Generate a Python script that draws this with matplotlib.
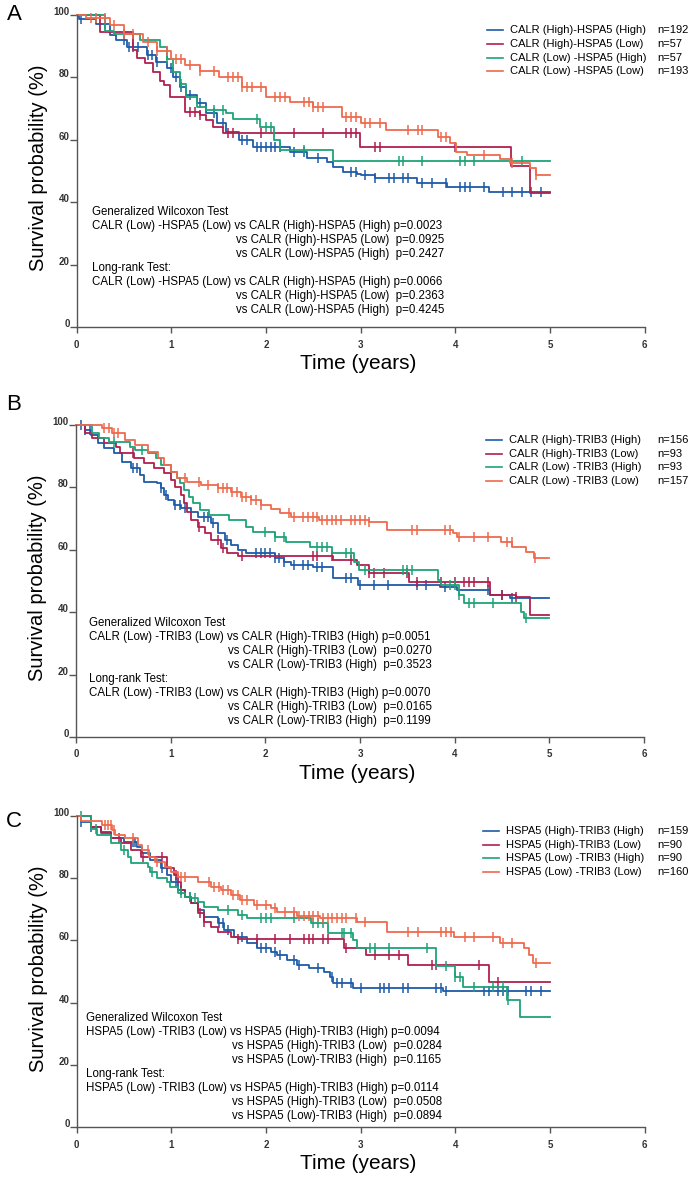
import numpy as np
import matplotlib
matplotlib.use("Agg")
import matplotlib.pyplot as plt

plt.rcParams['font.family'] = ['Liberation Sans', 'DejaVu Sans']

BLUE = '#1f5ba8'
RED = '#b0204e'
GREEN = '#1ea378'
SALMON = '#ee6a4e'

# ---------------- Panel A: CALR / HSPA5 ----------------
a_blue_t = [0, 0.03, 0.2, 0.35, 0.42, 0.53, 0.74, 0.84, 0.95, 1.02, 1.09, 1.16, 1.27, 1.37, 1.48, 1.58, 1.72, 1.86,
            2.25, 2.43, 2.64, 2.71, 2.81, 2.96, 3.0, 3.15, 3.59, 3.91, 4.35, 5.0]
a_blue_s = [100, 98.7, 97, 93.6, 92, 89.8, 87.2, 85, 82.9, 80.2, 77, 74.4, 71.7, 68.5, 65.3, 62.6, 60, 57.8,
            56.2, 54.1, 53, 51.4, 49.8, 49.2, 48.7, 47.7, 46, 44.8, 43.4, 43.4]
a_blue_c = [0.05, 0.3, 0.5, 0.55, 0.6, 0.65, 0.75, 0.8, 0.85, 1.0, 1.05, 1.1, 1.2, 1.3, 1.45, 1.55, 1.75, 1.8, 1.9,
            1.95, 2.0, 2.05, 2.1, 2.15, 2.3, 2.4, 2.55, 2.9, 2.95, 3.05, 3.15, 3.3, 3.35, 3.45, 3.5, 3.65, 3.75,
            3.9, 4.05, 4.1, 4.15, 4.3, 4.5, 4.6, 4.7, 4.8, 4.9]
a_red_t = [0, 0.25, 0.6, 0.64, 0.72, 0.81, 0.88, 0.92, 0.99, 1.14, 1.3, 1.37, 1.44, 1.55, 2.99, 4.59, 4.79, 5.0]
a_red_s = [100, 94.7, 88.8, 86.2, 84.5, 81.8, 79, 77.5, 73.8, 69, 68, 66.3, 64.2, 62.1, 57.8, 51.7, 43, 43]
a_red_c = [1.2, 1.25, 1.3, 1.6, 1.65, 1.95, 2.3, 2.6, 2.85, 2.9, 2.95, 3.15, 3.2, 4.0]
a_green_t = [0, 0.3, 0.4, 0.67, 0.88, 0.95, 1.02, 1.09, 1.16, 1.27, 1.37, 1.58, 1.65, 1.94, 2.08, 2.15, 2.71, 5.0]
a_green_s = [100, 95, 94, 92, 89.8, 86, 81.8, 78, 73.8, 70.6, 69.5, 68.5, 66.7, 64.2, 60, 56.7, 53.3, 53.3]
a_green_c = [0.95, 1.1, 1.45, 1.55, 1.9, 2.0, 2.05, 2.4, 3.4, 3.45, 3.65, 4.05, 4.1, 4.2, 4.7]
a_sal_t = [0, 0.1, 0.35, 0.5, 0.7, 0.85, 1.0, 1.15, 1.3, 1.5, 1.75, 2.0, 2.25, 2.5, 2.8, 3.0, 3.27, 3.82, 3.94,
           4.01, 4.12, 4.47, 4.58, 4.79, 4.85, 5.0]
a_sal_s = [100, 99, 96.8, 94, 91.5, 88.5, 86, 84, 82, 80, 77, 73.7, 72, 70.5, 67.3, 65.4, 63.1, 61, 59, 56, 55,
           54, 52.5, 50.9, 48.7, 48.7]
a_sal_c = [0.15, 0.2, 0.3, 0.4, 0.5, 0.6, 0.75, 0.85, 0.95, 1.05, 1.1, 1.2, 1.3, 1.45, 1.6, 1.65, 1.7, 1.75, 1.8,
           1.85, 1.95, 2.1, 2.15, 2.2, 2.4, 2.45, 2.5, 2.55, 2.6, 2.85, 2.9, 2.95, 3.05, 3.1, 3.2, 3.5, 3.6,
           3.65, 3.85, 3.9, 4.3, 4.6, 4.85]

# ---------------- Panel B: CALR / TRIB3 ----------------
b_blue_t = [0, 0.1, 0.16, 0.23, 0.3, 0.4, 0.49, 0.58, 0.68, 0.72, 0.86, 0.9, 0.93, 0.97, 1.04, 1.11, 1.22, 1.29,
            1.43, 1.5, 1.57, 1.64, 1.71, 1.8, 2.1, 2.2, 2.27, 2.5, 2.71, 2.98, 3.84, 4.02, 4.37, 4.58, 5.0]
b_blue_s = [100, 98.4, 96.8, 94.1, 92.5, 90.9, 88.2, 86.1, 84, 81.8, 81.3, 79.7, 77.6, 76, 74.4, 73.3, 72.2, 70.6,
            68.5, 65.3, 63.1, 61.5, 59.9, 58.9, 57.3, 56.2, 55.2, 54.6, 50.8, 48.7, 48, 47.1, 45.5, 44.4, 44.4]
b_blue_c = [0.05, 0.1, 0.15, 0.6, 0.65, 0.9, 0.95, 1.05, 1.1, 1.15, 1.35, 1.4, 1.45, 1.6, 1.9, 1.95, 2.0, 2.05,
            2.1, 2.15, 2.2, 2.3, 2.4, 2.45, 2.55, 2.6, 2.85, 2.9, 3.0, 3.15, 3.3, 3.6, 3.7, 3.9, 4.35, 4.5, 4.6]
b_red_t = [0, 0.1, 0.17, 0.3, 0.42, 0.47, 0.61, 0.72, 0.83, 0.93, 1.0, 1.05, 1.11, 1.14, 1.17, 1.22, 1.29, 1.36,
           1.43, 1.53, 1.6, 1.71, 2.71, 2.97, 3.1, 3.52, 4.37, 4.65, 4.79, 5.0]
b_red_s = [100, 97.3, 95.7, 94.1, 93, 90.9, 89.3, 87.7, 86.1, 84.5, 82.4, 80.2, 77.6, 74.9, 72.2, 69.6, 67.4,
           65.3, 63.1, 60.5, 58.9, 58.1, 56.7, 55.1, 52.5, 49.8, 45.5, 45, 39.1, 39.1]
b_red_c = [0.6, 1.3, 1.5, 1.55, 1.75, 2.5, 2.55, 2.7, 2.9, 3.1, 3.15, 3.25, 3.5, 3.6, 3.85, 4.0, 4.1, 4.15, 4.2,
           4.35, 4.5, 4.65]
b_green_t = [0, 0.17, 0.24, 0.35, 0.57, 0.62, 0.76, 0.85, 0.9, 1.0, 1.07, 1.1, 1.14, 1.19, 1.24, 1.31, 1.41,
             1.62, 1.8, 1.87, 2.1, 2.22, 2.47, 2.7, 2.94, 2.99, 3.82, 3.85, 4.05, 4.1, 4.7, 4.73, 5.0]
b_green_s = [100, 97.3, 95.7, 94.6, 93, 92, 90.9, 89.3, 87.2, 85, 82.9, 81.3, 79.2, 77, 74.9, 72.8, 71.2, 69.6,
             67.4, 65.8, 64.2, 62.6, 61, 58.9, 56.2, 53.5, 50.3, 48.7, 45.5, 42.9, 40.2, 38, 38]
b_green_c = [0.4, 0.7, 2.0, 2.1, 2.2, 2.55, 2.6, 2.65, 2.85, 2.9, 3.05, 3.45, 3.5, 3.55, 3.95, 4.0, 4.05, 4.15,
             4.2, 4.4, 4.75]
b_sal_t = [0, 0.28, 0.38, 0.52, 0.62, 0.76, 0.87, 0.93, 1.0, 1.07, 1.17, 1.32, 1.5, 1.64, 1.74, 1.85, 1.95, 2.06,
           2.16, 2.27, 2.57, 3.1, 3.29, 3.98, 4.02, 4.49, 4.61, 4.75, 4.84, 5.0]
b_sal_s = [100, 99, 97.4, 95.2, 93.6, 91.4, 89.3, 87.2, 85, 82.9, 81.8, 80.8, 79.7, 78.6, 77, 76, 74.4, 73, 71.7,
           70.6, 69.5, 68.8, 66.3, 65.3, 64.2, 62.6, 61, 59.4, 57.3, 57.3]
b_sal_c = [0.3, 0.35, 0.4, 0.45, 1.15, 1.3, 1.4, 1.5, 1.55, 1.6, 1.65, 1.7, 1.75, 1.8, 1.85, 1.9, 1.95, 2.25, 2.3,
           2.4, 2.45, 2.5, 2.55, 2.6, 2.65, 2.7, 2.75, 2.8, 2.9, 2.95, 3.0, 3.05, 3.1, 3.55, 3.6, 3.9, 3.95,
           4.05, 4.2, 4.35, 4.55, 4.6, 4.85]

# ---------------- Panel C: HSPA5 / TRIB3 ----------------
c_blue_t = [0, 0.05, 0.15, 0.26, 0.36, 0.5, 0.64, 0.69, 0.78, 0.89, 0.96, 1.0, 1.07, 1.14, 1.21, 1.28, 1.35, 1.49,
            1.56, 1.66, 1.8, 1.91, 2.05, 2.12, 2.22, 2.33, 2.45, 2.61, 2.68, 2.71, 2.92, 3.87, 5.0]
c_blue_s = [100, 98.2, 96.6, 94.4, 92.8, 91.7, 90.1, 88, 85.9, 83.2, 81, 78.9, 76.2, 74.1, 71.9, 69.8, 67.6, 65.5,
            63.3, 61.2, 59.1, 57.5, 56.4, 55.3, 53.7, 52.1, 51, 49.9, 48.3, 46.2, 44.6, 43.8, 43.8]
c_blue_c = [0.05, 0.15, 0.6, 0.62, 0.9, 1.05, 1.1, 1.2, 1.35, 1.5, 1.55, 1.6, 1.75, 1.9, 1.95, 2.0, 2.1, 2.15, 2.3,
            2.35, 2.55, 2.7, 2.75, 2.8, 2.9, 3.0, 3.2, 3.25, 3.3, 3.45, 3.5, 3.8, 3.85, 3.9, 4.3, 4.35, 4.45,
            4.5, 4.55, 4.75, 4.8, 4.9]
c_red_t = [0, 0.15, 0.26, 0.36, 0.47, 0.57, 0.68, 0.96, 1.03, 1.07, 1.1, 1.15, 1.21, 1.28, 1.35, 1.42, 1.49, 1.63,
           1.7, 2.82, 3.06, 3.5, 4.35, 5.0]
c_red_s = [100, 96.6, 95, 92.8, 91.2, 89.1, 86.9, 83.2, 81, 78.9, 76.2, 74.1, 71.9, 68.7, 66, 64.4, 62.8, 61.2,
           60.5, 57.5, 55.3, 52.1, 46.5, 46.5]
c_red_c = [0.45, 0.7, 0.9, 1.05, 1.3, 1.35, 1.7, 1.9, 2.1, 2.25, 2.4, 2.45, 2.5, 2.6, 2.65, 2.85, 3.15, 3.3, 3.4,
           3.75, 3.8, 4.25, 4.45]
c_green_t = [0, 0.15, 0.22, 0.36, 0.47, 0.54, 0.57, 0.75, 0.78, 0.85, 0.96, 0.99, 1.07, 1.14, 1.21, 1.28, 1.35,
             1.49, 1.7, 1.8, 2.47, 2.66, 2.92, 2.96, 3.8, 4.0, 4.08, 4.54, 4.68, 5.0]
c_green_s = [100, 96, 93.9, 91.2, 89.1, 86.9, 84.8, 83.7, 82.1, 80, 78.9, 77.3, 75.1, 74.1, 73.5, 72.4, 70.8,
             69.8, 68.2, 67.3, 65.5, 62.3, 60.1, 57.5, 51.8, 48.3, 45.1, 40.8, 35.5, 35.5]
c_green_c = [0.05, 0.2, 0.5, 0.8, 1.1, 1.2, 1.25, 1.6, 1.75, 1.95, 2.0, 2.05, 2.3, 2.5, 2.55, 2.6, 2.8, 2.82, 2.9,
             3.1, 3.15, 3.3, 3.7, 3.9, 4.0, 4.05, 4.2, 4.4, 4.5, 4.55]
c_sal_t = [0, 0.05, 0.27, 0.37, 0.41, 0.51, 0.65, 0.69, 0.76, 0.83, 0.93, 1.0, 1.07, 1.28, 1.42, 1.52, 1.63,
           1.73, 1.87, 2.05, 2.12, 2.33, 2.57, 2.96, 3.28, 3.98, 4.47, 4.72, 4.78, 4.82, 5.0]
c_sal_s = [100, 98.5, 97.1, 95.5, 93.9, 92.8, 90.7, 89.1, 86.9, 85.3, 83.7, 82.1, 80.5, 78.9, 77.3, 76.2, 74.6,
           73, 71.4, 70.3, 69.2, 68, 67.1, 66, 62.8, 61.2, 59.1, 57.5, 55.3, 52.6, 52.6]
c_sal_c = [0.3, 0.33, 0.36, 0.4, 0.6, 0.75, 0.85, 1.1, 1.15, 1.4, 1.45, 1.5, 1.55, 1.6, 1.65, 1.7, 1.75, 1.8,
           1.9, 2.0, 2.1, 2.2, 2.3, 2.35, 2.4, 2.45, 2.5, 2.55, 2.6, 2.65, 2.7, 2.75, 2.8, 2.85, 2.95, 3.05,
           3.5, 3.6, 3.85, 3.9, 3.95, 4.1, 4.2, 4.4, 4.5, 4.6, 4.85]

a_labels = ['CALR (High)-HSPA5 (High)', 'CALR (High)-HSPA5 (Low)', 'CALR (Low) -HSPA5 (High)', 'CALR (Low) -HSPA5 (Low)']
a_n = ['n=192', 'n=57', 'n=57', 'n=193']
b_labels = ['CALR (High)-TRIB3 (High)', 'CALR (High)-TRIB3 (Low)', 'CALR (Low) -TRIB3 (High)', 'CALR (Low) -TRIB3 (Low)']
b_n = ['n=156', 'n=93', 'n=93', 'n=157']
c_labels = ['HSPA5 (High)-TRIB3 (High)', 'HSPA5 (High)-TRIB3 (Low)', 'HSPA5 (Low) -TRIB3 (High)', 'HSPA5 (Low) -TRIB3 (Low)']
c_n = ['n=159', 'n=90', 'n=90', 'n=160']

a_stats = ['Generalized Wilcoxon Test',
           'CALR (Low) -HSPA5 (Low) vs CALR (High)-HSPA5 (High) p=0.0023',
           'vs CALR (High)-HSPA5 (Low)  p=0.0925',
           'vs CALR (Low)-HSPA5 (High)  p=0.2427',
           'Long-rank Test:',
           'CALR (Low) -HSPA5 (Low) vs CALR (High)-HSPA5 (High) p=0.0066',
           'vs CALR (High)-HSPA5 (Low)  p=0.2363',
           'vs CALR (Low)-HSPA5 (High)  p=0.4245']
b_stats = ['Generalized Wilcoxon Test',
           'CALR (Low) -TRIB3 (Low) vs CALR (High)-TRIB3 (High) p=0.0051',
           'vs CALR (High)-TRIB3 (Low)  p=0.0270',
           'vs CALR (Low)-TRIB3 (High)  p=0.3523',
           'Long-rank Test:',
           'CALR (Low) -TRIB3 (Low) vs CALR (High)-TRIB3 (High) p=0.0070',
           'vs CALR (High)-TRIB3 (Low)  p=0.0165',
           'vs CALR (Low)-TRIB3 (High)  p=0.1199']
c_stats = ['Generalized Wilcoxon Test',
           'HSPA5 (Low) -TRIB3 (Low) vs HSPA5 (High)-TRIB3 (High) p=0.0094',
           'vs HSPA5 (High)-TRIB3 (Low)  p=0.0284',
           'vs HSPA5 (Low)-TRIB3 (High)  p=0.1165',
           'Long-rank Test:',
           'HSPA5 (Low) -TRIB3 (Low) vs HSPA5 (High)-TRIB3 (High) p=0.0114',
           'vs HSPA5 (High)-TRIB3 (Low)  p=0.0508',
           'vs HSPA5 (Low)-TRIB3 (High)  p=0.0894']

panels = [
    dict(letter='A', rect=[0.110, 0.7231, 0.8165, 0.2642], letter_y=1.003, leg_x=0.7625,
         curves=[(a_blue_t, a_blue_s, a_blue_c), (a_red_t, a_red_s, a_red_c),
                 (a_green_t, a_green_s, a_green_c), (a_sal_t, a_sal_s, a_sal_c)],
         labels=a_labels, n=a_n, stats=a_stats, tx=(0.027, 0.280), ty=0.369),
    dict(letter='B', rect=[0.109, 0.3760, 0.8165, 0.2642], letter_y=1.064, leg_x=0.7625,
         curves=[(b_blue_t, b_blue_s, b_blue_c), (b_red_t, b_red_s, b_red_c),
                 (b_green_t, b_green_s, b_green_c), (b_sal_t, b_sal_s, b_sal_c)],
         labels=b_labels, n=b_n, stats=b_stats, tx=(0.023, 0.268), ty=0.366),
    dict(letter='C', rect=[0.110, 0.0457, 0.8165, 0.2633], letter_y=0.982, leg_x=0.7555,
         curves=[(c_blue_t, c_blue_s, c_blue_c), (c_red_t, c_red_s, c_red_c),
                 (c_green_t, c_green_s, c_green_c), (c_sal_t, c_sal_s, c_sal_c)],
         labels=c_labels, n=c_n, stats=c_stats, tx=(0.017, 0.273), ty=0.350),
]
colors = [BLUE, RED, GREEN, SALMON]

fig = plt.figure(figsize=(6.96, 11.81), dpi=100)

for p in panels:
    ax = fig.add_axes(p['rect'])
    for (t, s, cens), col in zip(p['curves'], colors):
        t = np.array(t)
        s = np.array(s)
        ax.step(t, s, where='post', color=col, lw=1.3, clip_on=False)
        cens = np.array(cens)
        idx = np.searchsorted(t, cens, side='right') - 1
        ax.plot(cens, s[idx], ls='none', marker='|', ms=7, mew=1.1, color=col, clip_on=False)

    ax.set_xlim(0, 6)
    ax.set_ylim(0, 100)
    ax.set_xticks(range(0, 7))
    ax.set_yticks([0, 20, 40, 60, 80, 100])
    for side in ['top', 'right']:
        ax.spines[side].set_visible(False)
    for side in ['left', 'bottom']:
        ax.spines[side].set_color('#555555')
        ax.spines[side].set_linewidth(1.0)
    ax.tick_params(axis='y', length=5, width=1.0, color='#555555', pad=0,
                   labelsize=7, labelcolor='#333333')
    ax.tick_params(axis='x', length=4, width=1.0, color='#555555', pad=5,
                   labelsize=7, labelcolor='#333333')
    for lbl in ax.get_yticklabels():
        lbl.set_va('baseline')
        lbl.set_fontweight('bold')
    for lbl in ax.get_xticklabels():
        lbl.set_fontweight('bold')

    ax.set_ylabel('Survival probability (%)', fontsize=14.5)
    ax.yaxis.set_label_coords(-0.050, 0.51)
    ax.set_xlabel('Time (years)', fontsize=15)
    ax.xaxis.set_label_coords(0.495, -0.088)

    ax.text(-0.11, p['letter_y'], p['letter'], transform=ax.transAxes, fontsize=16,
            ha='center', va='center')

    # legend drawn by hand so the n= column lines up
    for i, (lab, nn, col) in enumerate(zip(p['labels'], p['n'], colors)):
        yy = 0.952 - i * 0.0442
        ax.plot([p['leg_x'] - 0.041, p['leg_x'] - 0.0125], [yy, yy], color=col, lw=1.2,
                transform=ax.transAxes, clip_on=False)
        ax.text(p['leg_x'], yy, lab, transform=ax.transAxes, fontsize=8, va='center', ha='left')
        ax.text(1.0227, yy, nn, transform=ax.transAxes, fontsize=8, va='center', ha='left')

    # test statistics block
    for i, line in enumerate(p['stats']):
        x = p['tx'][1] if line.startswith('vs') else p['tx'][0]
        ax.text(x, p['ty'] - i * 0.0449, line, transform=ax.transAxes, fontsize=8.3,
                va='center', ha='left')

fig.savefig('out.png', dpi=100)
